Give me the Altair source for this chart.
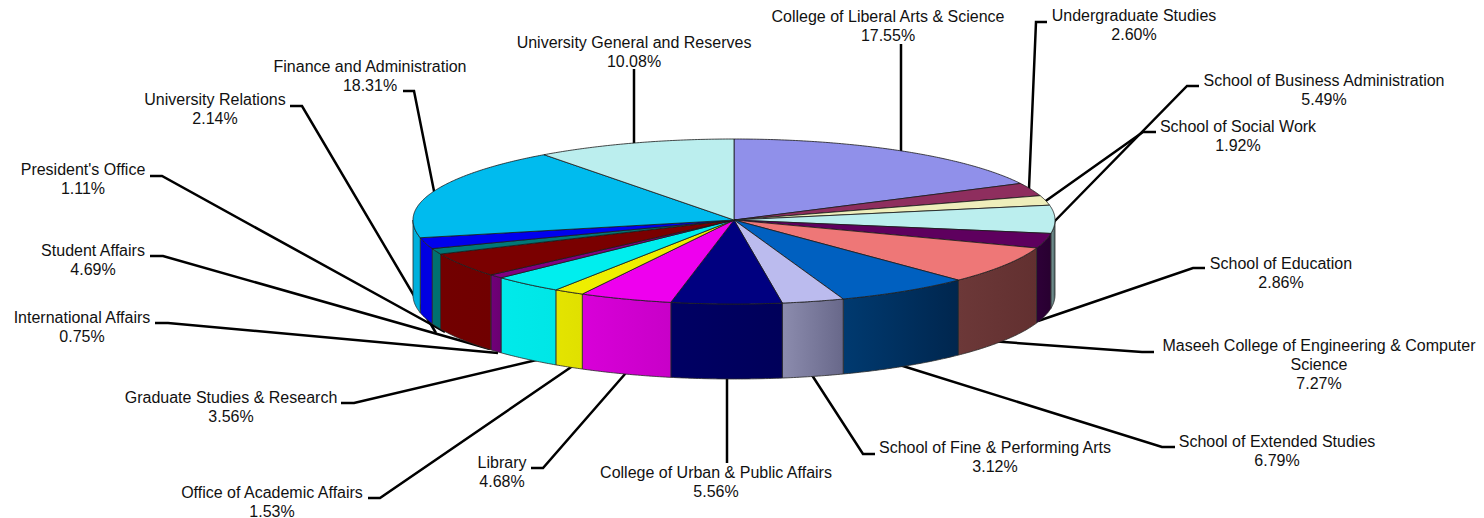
import math
import altair as alt
import pandas as pd

names = ["College of Liberal Arts & Science", "Undergraduate Studies", "School of Social Work",
         "School of Business Administration", "School of Education",
         "Maseeh College of Engineering & Computer Science", "School of Extended Studies",
         "School of Fine & Performing Arts", "College of Urban & Public Affairs", "Library",
         "Office of Academic Affairs", "Graduate Studies & Research", "International Affairs",
         "Student Affairs", "President's Office", "University Relations",
         "Finance and Administration", "University General and Reserves"]
values = [17.55, 2.60, 1.92, 5.49, 2.86, 7.27, 6.79, 3.12, 5.56, 4.68, 1.53, 3.56, 0.75, 4.69,
          1.11, 2.14, 18.31, 10.08]
top_colors = ["#9090EA", "#8E2E5E", "#EEEEBB", "#BBEEEE", "#5E005E", "#EE7777", "#0060C0", "#BBBBEE",
              "#000080", "#EE00EE", "#EEEE00", "#00EEEE", "#800080", "#7A0000", "#007878", "#0000EE",
              "#00BBEE", "#BBEEEE"]
wall_left = ["#000000", "#000000", "#000000", "#7FA0A0", "#2E0038", "#6C3838", "#003A70", "#8C8CAE",
             "#000064", "#D800D8", "#E4E400", "#00EAEA", "#70007A", "#720000", "#007070", "#0000E0",
             "#00B0DC", "#000000"]
wall_right = ["#000000", "#000000", "#000000", "#506868", "#280030", "#623030", "#00264E", "#68688A",
              "#00005A", "#C800C8", "#E0E000", "#00E6E6", "#6A0070", "#700000", "#007070", "#0000E4",
              "#00B0DC", "#000000"]

label_lines = [["College of Liberal Arts & Science"], ["Undergraduate Studies"], ["School of Social Work"],
               ["School of Business Administration"], ["School of Education"],
               ["Maseeh College of Engineering & Computer", "Science"], ["School of Extended Studies"],
               ["School of Fine & Performing Arts"], ["College of Urban & Public Affairs"], ["Library"],
               ["Office of Academic Affairs"], ["Graduate Studies & Research"], ["International Affairs"],
               ["Student Affairs"], ["President's Office"], ["University Relations"],
               ["Finance and Administration"], ["University General and Reserves"]]
label_x = [888, 1134, 1238, 1324, 1281, 1319, 1277, 995, 716, 502, 272, 231, 82, 93, 83, 215, 370, 634]
label_y = [16, 15, 125.5, 80, 263, 345, 441, 447, 472, 462, 492, 397, 317, 250, 169, 99, 66, 42]

leader_x = [[901, 901], [1047, 1036, 1028.7], [1156, 1143, 1040], [1199, 1187, 1048], [1205, 1193, 1038],
            [1154, 1142, 990], [1175, 1162, 890], [875, 863, 808], [727, 727], [531, 543, 632],
            [368, 380, 580], [341, 354, 545], [155, 168, 498], [150, 163, 490], [150, 162, 445],
            [290, 302, 436], [403, 414, 436], [634, 634]]
leader_y = [[43, 155], [21, 21, 195], [131, 131, 204], [85, 85, 227], [267, 267, 320],
            [351, 351, 340], [446, 446, 361], [453, 453, 368], [462, 370], [467, 467, 365],
            [497, 497, 360], [402, 402, 357], [322, 322, 352], [255, 255, 348], [175, 175, 331],
            [105, 105, 332], [90, 90, 200], [68, 150]]

# projection of the tilted disc, in picture pixels (the far half looks slightly flatter)
CX, CY, RX, RY_FAR, RY_NEAR, DEPTH = 734, 219, 321, 81, 84, 75
FONT = "Liberation Sans"
W, H = 1468, 502

xs = alt.Scale(domain=[8, 8 + W], range=[0, W], nice=False, zero=False)
ys = alt.Scale(domain=[8, 8 + H], range=[0, H], nice=False, zero=False)
X = alt.X("x:Q", scale=xs, axis=None)
Y = alt.Y("y:Q", scale=ys, axis=None)


def rim(deg, drop=0):
    a = math.radians(deg)
    c = math.cos(a)
    return CX + RX * math.sin(a), CY - (RY_FAR if c > 0 else RY_NEAR) * c + drop


def arc_degrees(a0, a1):
    n = max(2, int(abs(a1 - a0) * 2) + 1)
    return [a0 + (a1 - a0) * k / (n - 1) for k in range(n)]


total = sum(values)
layers = []

rows = []
for i, (nm, lx, ly) in enumerate(zip(names, leader_x, leader_y)):
    for j, (px, py) in enumerate(zip(lx, ly)):
        rows.append({"x": px, "y": py, "k": i, "j": j})
layers.append(alt.Chart(pd.DataFrame(rows)).mark_line(color="#000000", strokeWidth=2.5, strokeJoin="miter").encode(
    x=X, y=Y, detail="k:N", order="j:Q"))

cum = 0.0
spans = []
for v in values:
    spans.append((cum / total * 360, (cum + v) / total * 360))
    cum += v

# walls
for (a0, a1), cl, cr in zip(spans, wall_left, wall_right):
    s, e = max(a0, 90), min(a1, 270)
    if e <= s:
        continue
    pts = [rim(d) for d in arc_degrees(s, e)] + [rim(d, DEPTH) for d in arc_degrees(e, s)]
    pts.append(pts[0])
    df = pd.DataFrame([{"x": p[0], "y": p[1], "i": k} for k, p in enumerate(pts)])
    grad = alt.LinearGradient(gradient="linear", x1=0, x2=1, y1=0, y2=0,
                              stops=[alt.GradientStop(color=cl, offset=0), alt.GradientStop(color=cr, offset=1)])
    layers.append(alt.Chart(df).mark_line(fill=grad, stroke="#2a2a2a", strokeWidth=0.8).encode(x=X, y=Y, order="i:Q"))

# top face
for (a0, a1), c in zip(spans, top_colors):
    pts = [(CX, CY)] + [rim(d) for d in arc_degrees(a0, a1)] + [(CX, CY)]
    df = pd.DataFrame([{"x": p[0], "y": p[1], "i": k} for k, p in enumerate(pts)])
    layers.append(alt.Chart(df).mark_line(fill=c, stroke="#1a1a1a", strokeWidth=0.8, strokeJoin="round").encode(x=X, y=Y, order="i:Q"))

# labels
txt = []
LEAD = 19
for lines, v, lx, ly in zip(label_lines, values, label_x, label_y):
    for n, t in enumerate(lines + [f"{v:.2f}%"]):
        txt.append({"x": lx, "y": ly + n * LEAD, "t": t})
layers.append(alt.Chart(pd.DataFrame(txt)).mark_text(font=FONT, fontSize=16, color="#111111", align="center",
                                                      baseline="middle").encode(x=X, y=Y, text="t:N"))

chart = alt.layer(*layers).properties(
    width=W, height=H, padding=0, background="white"
).configure_view(stroke=None)

chart.save("out.html", embed_options={"renderer": "svg", "actions": False})
